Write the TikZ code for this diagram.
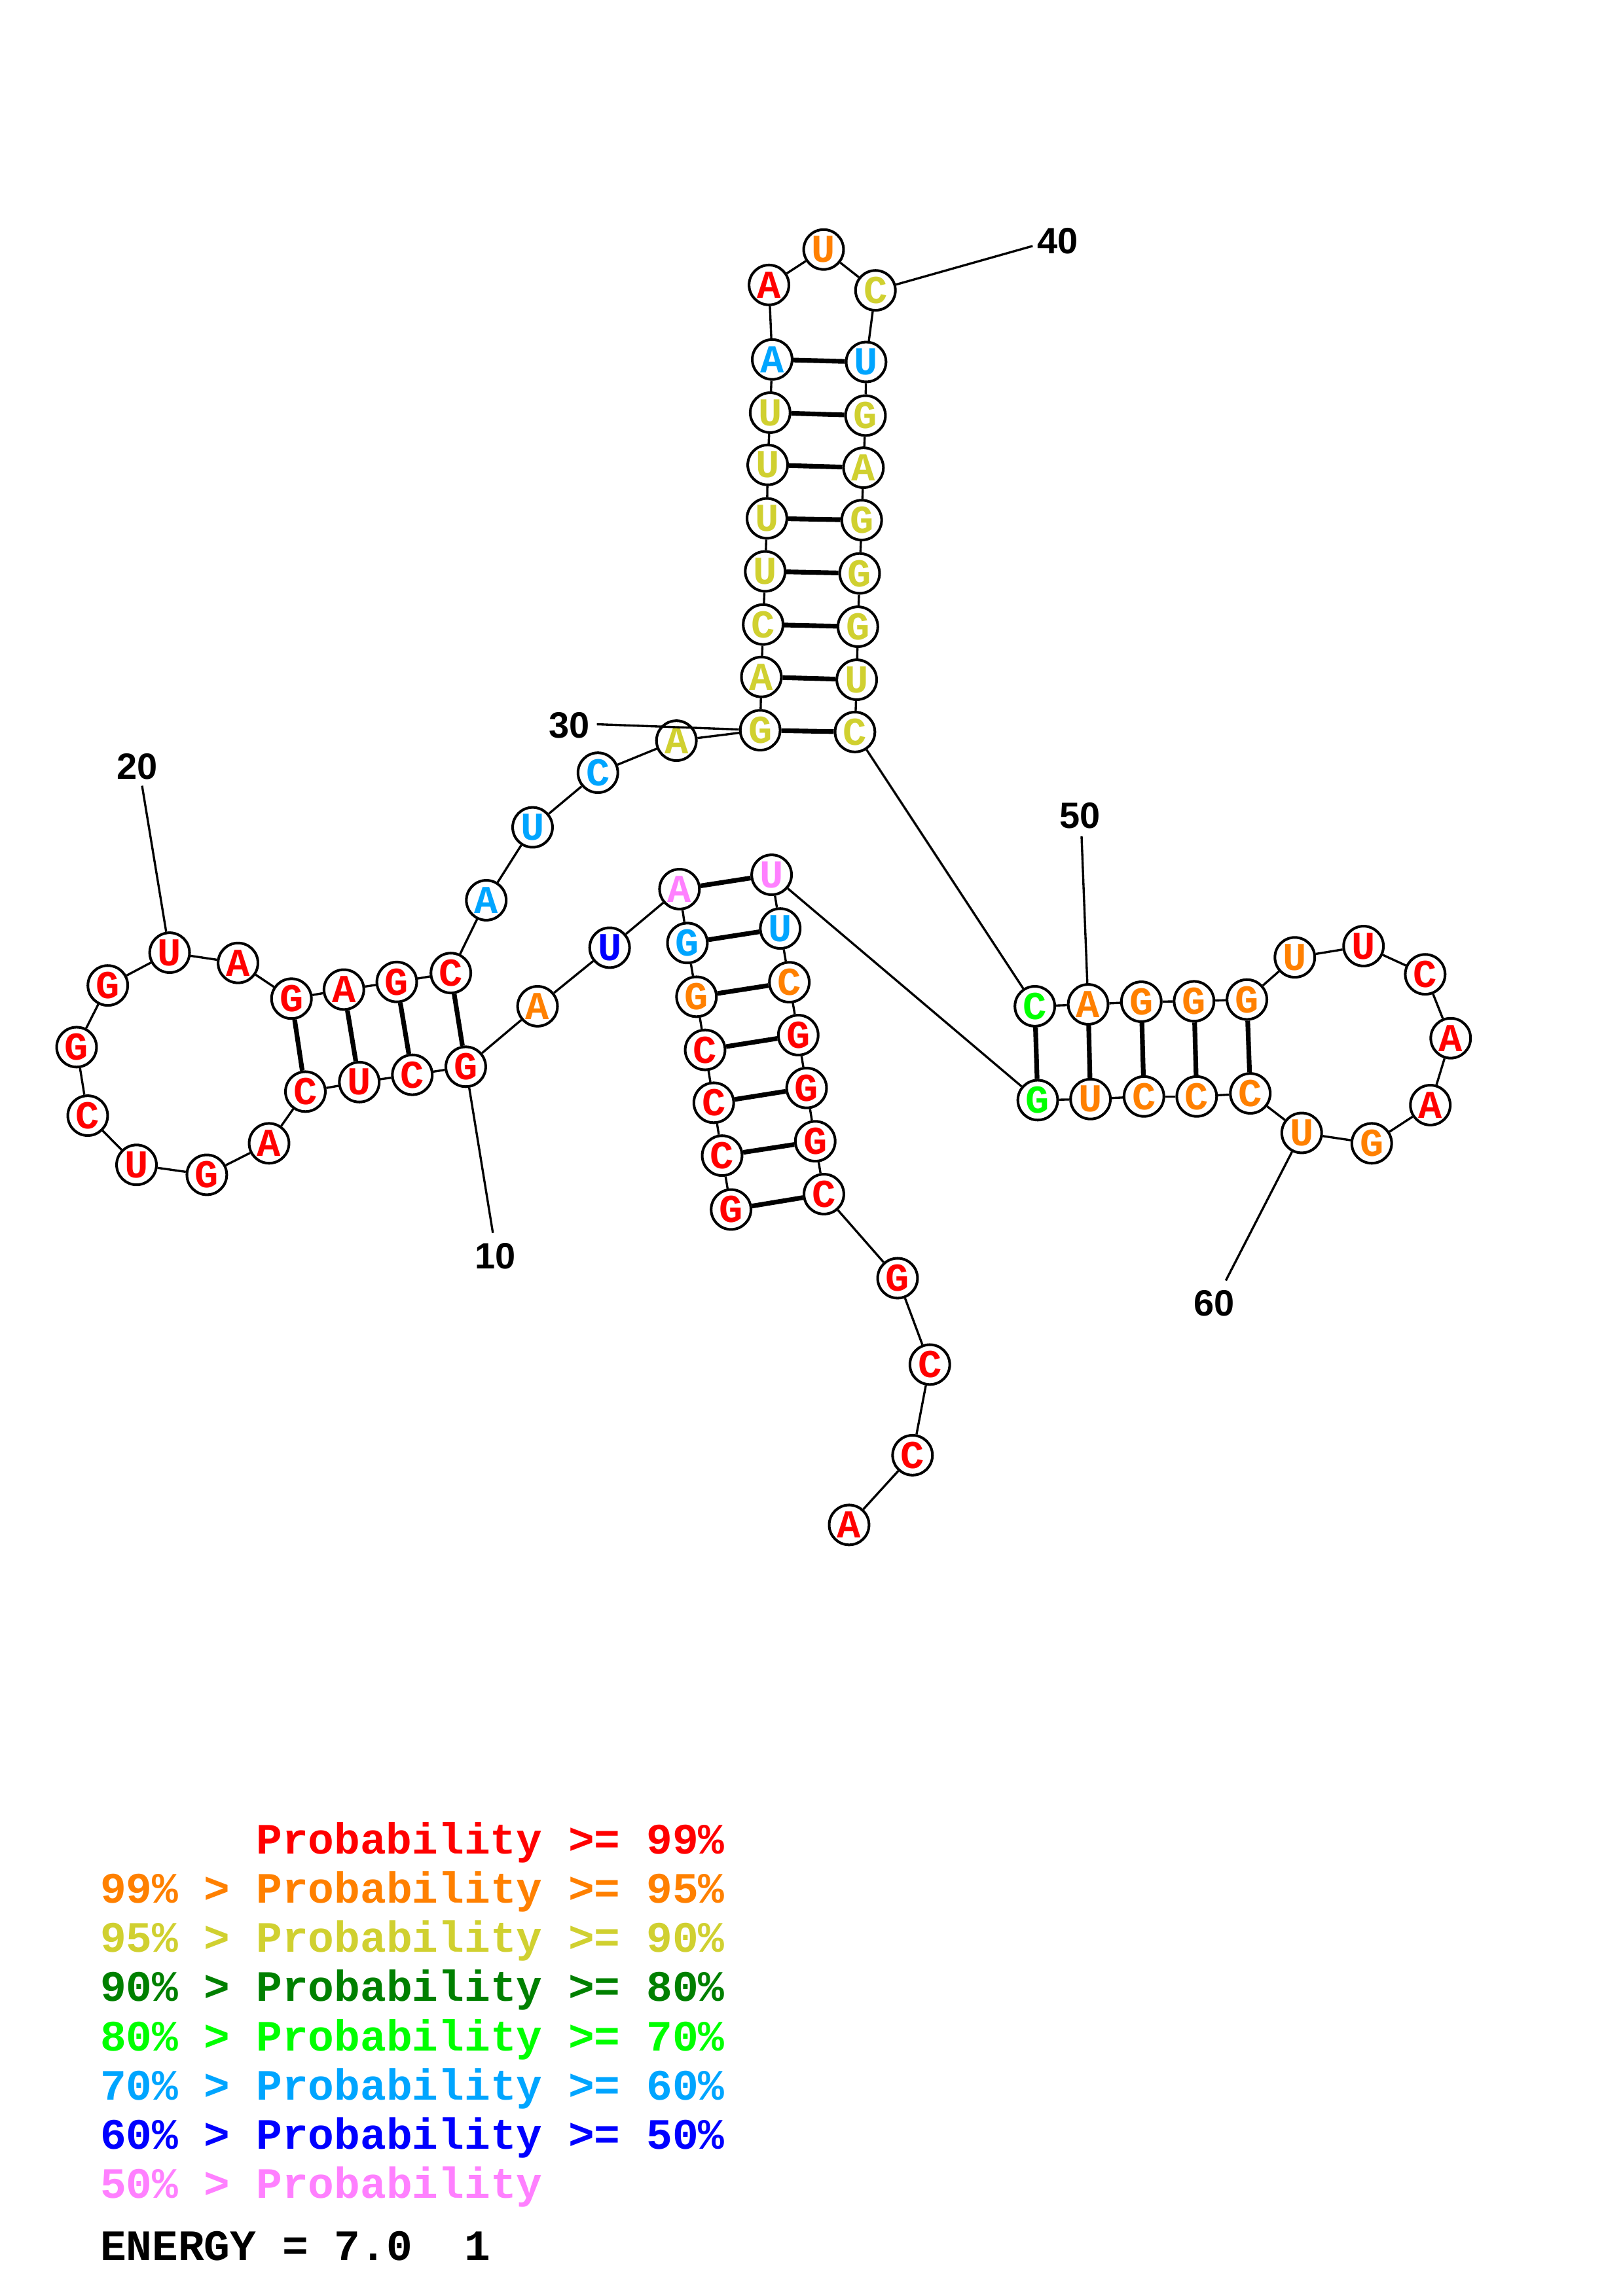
\documentclass[tikz,border=0pt]{standalone}
\usepackage{fontspec}
\newfontfamily\monob{Liberation Mono}
\newfontfamily\sansb{Liberation Sans}
\definecolor{pr}{RGB}{255,0,0}
\definecolor{po}{RGB}{255,128,0}
\definecolor{py}{RGB}{208,208,48}
\definecolor{pdg}{RGB}{0,128,0}
\definecolor{pg}{RGB}{0,255,0}
\definecolor{ps}{RGB}{0,165,255}
\definecolor{pb}{RGB}{0,0,255}
\definecolor{pp}{RGB}{255,128,255}
\tikzset{
  nt/.style={circle, draw=black, line width=0.9pt, fill=white, minimum size=13.6pt, inner sep=0pt, font=\monob\bfseries\fontsize{13.5}{13.5}\selectfont},
  bb/.style={draw=black, line width=0.75pt},
  bp/.style={draw=black, line width=1.6pt},
  lbl/.style={font=\sansb\bfseries\fontsize{12.5}{12.5}\selectfont, inner sep=0pt},
  lgd/.style={font=\monob\bfseries\fontsize{14.8}{14.8}\selectfont, anchor=base west, inner sep=0pt}
}
\begin{document}
\begin{tikzpicture}[x=0.5pt,y=-0.5pt]
\fill[white] (0,0) rectangle (1108,1568);
\useasboundingbox (0,0) rectangle (1108,1568);
\foreach \i/\x/\y/\l/\c in {
1/499.1/826/G/pr, 2/493/789.2/C/pr, 3/487.3/753.1/C/pr, 4/481.4/717/C/pr,
5/475.5/680.7/G/po, 6/469.3/644/G/ps, 7/463.9/607.2/A/pp, 8/416.2/647.2/U/pb,
9/367/687.2/A/po, 10/318/728.5/G/pr, 11/281.5/734/C/pr, 12/245.3/739/U/pr,
13/208.5/745.5/C/pr, 14/183.7/780.8/A/pr, 15/141.2/802.3/G/pr, 16/93.2/795.5/U/pr,
17/59.9/761.9/C/pr, 18/52.3/715.1/G/pr, 19/73.6/673/G/pr, 20/115.8/650.6/U/pr,
21/162.5/657.6/A/pr, 22/199/682/G/pr, 23/234.8/675.8/A/pr, 24/270.9/670.6/G/pr,
25/307.8/664.5/C/pr, 26/332/614.8/A/ps, 27/363.6/565/U/ps, 28/408.2/527.7/C/ps,
29/461.8/505.8/A/py, 30/519/498.7/G/py, 31/519.8/462.3/A/py, 32/521/426.5/C/py,
33/522.4/390.2/U/py, 34/523.6/354/U/py, 35/524.1/317.5/U/py, 36/525.8/281.8/U/py,
37/527.2/245.5/A/ps, 38/525/194.6/A/pr, 39/562.3/170.4/U/po, 40/597.7/198.3/C/py,
41/591.3/247.2/U/ps, 42/590.9/283.8/G/py, 43/589.5/319.4/A/py, 44/588.3/355.2/G/py,
45/586.9/391.6/G/py, 46/585.7/428/G/py, 47/584.9/464.2/U/py, 48/583.7/499.9/C/py,
49/706.5/687.2/C/pg, 50/742.9/685.9/A/po, 51/779.2/684.1/G/po, 52/815.2/683.8/G/po,
53/851.3/682.6/G/po, 54/884/653.8/U/po, 55/930.9/646.1/U/pr, 56/973/665.4/C/pr,
57/990.4/709/A/pr, 58/976.5/754.7/A/pr, 59/936.5/780.8/G/po, 60/888.7/773.7/U/po,
61/853.6/746.7/C/po, 62/817/748.8/C/po, 63/781/748.8/C/po, 64/744.5/750.6/U/po,
65/708.5/751.3/G/pg, 66/526.8/597.4/U/pp, 67/532.7/634.1/U/ps, 68/538.9/670.8/C/po,
69/545/706.9/G/pr, 70/550.7/743/G/pr, 71/556.6/779.4/G/pr, 72/562.5/815.5/C/pr,
73/612.8/872.9/G/pr, 74/634.8/931.9/C/pr, 75/623/993.8/C/pr, 76/579.7/1041.4/A/pr}
  {\node[nt, text=\c] (n\i) at (\x,\y) {\l};}
% backbone
\foreach \i in {1,...,75} {
  \pgfmathtruncatemacro{\j}{\i+1}
  \draw[bb] (n\i) -- (n\j);
}
% base pairs
\foreach \a/\b in {1/72,2/71,3/70,4/69,5/68,6/67,7/66,10/25,11/24,12/23,13/22,
  30/48,31/47,32/46,33/45,34/44,35/43,36/42,37/41,49/65,50/64,51/63,52/62,53/61}
  {\draw[bp] (n\a) -- (n\b);}
% number labels
\node[lbl] (t10) at (338,857.7) {10};
\node[lbl] (t20) at (93.6,523.6) {20};
\node[lbl] (t30) at (388.5,495.4) {30};
\node[lbl] (t40) at (722,164.4) {40};
\node[lbl] (t50) at (737.3,557) {50};
\node[lbl] (t60) at (828.9,890) {60};
\coordinate (e10) at (336.5,842);
\coordinate (e20) at (97,536.6);
\coordinate (e30) at (407.5,494.6);
\coordinate (e40) at (705,168);
\coordinate (e50) at (738.4,571);
\coordinate (e60) at (836.9,874.5);
\foreach \k in {10,20,30,40,50,60} {\draw[bb] (e\k) -- (n\k);}
% legend
\node[lgd, text=pr] (g1) at (174.5,1266) {Probability >= 99\%};
\node[lgd, text=po] (g2) at (68,1299.6) {99\% > Probability >= 95\%};
\node[lgd, text=py] (g3) at (68,1333.2) {95\% > Probability >= 90\%};
\node[lgd, text=pdg] (g4) at (68,1366.8) {90\% > Probability >= 80\%};
\node[lgd, text=pg] (g5) at (68,1400.4) {80\% > Probability >= 70\%};
\node[lgd, text=ps] (g6) at (68,1434) {70\% > Probability >= 60\%};
\node[lgd, text=pb] (g7) at (68,1467.6) {60\% > Probability >= 50\%};
\node[lgd, text=pp] (g8) at (68,1501.2) {50\% > Probability};
\node[lgd, text=black] (en) at (68,1543.5) {ENERGY = 7.0~~1};
\end{tikzpicture}
\end{document}
